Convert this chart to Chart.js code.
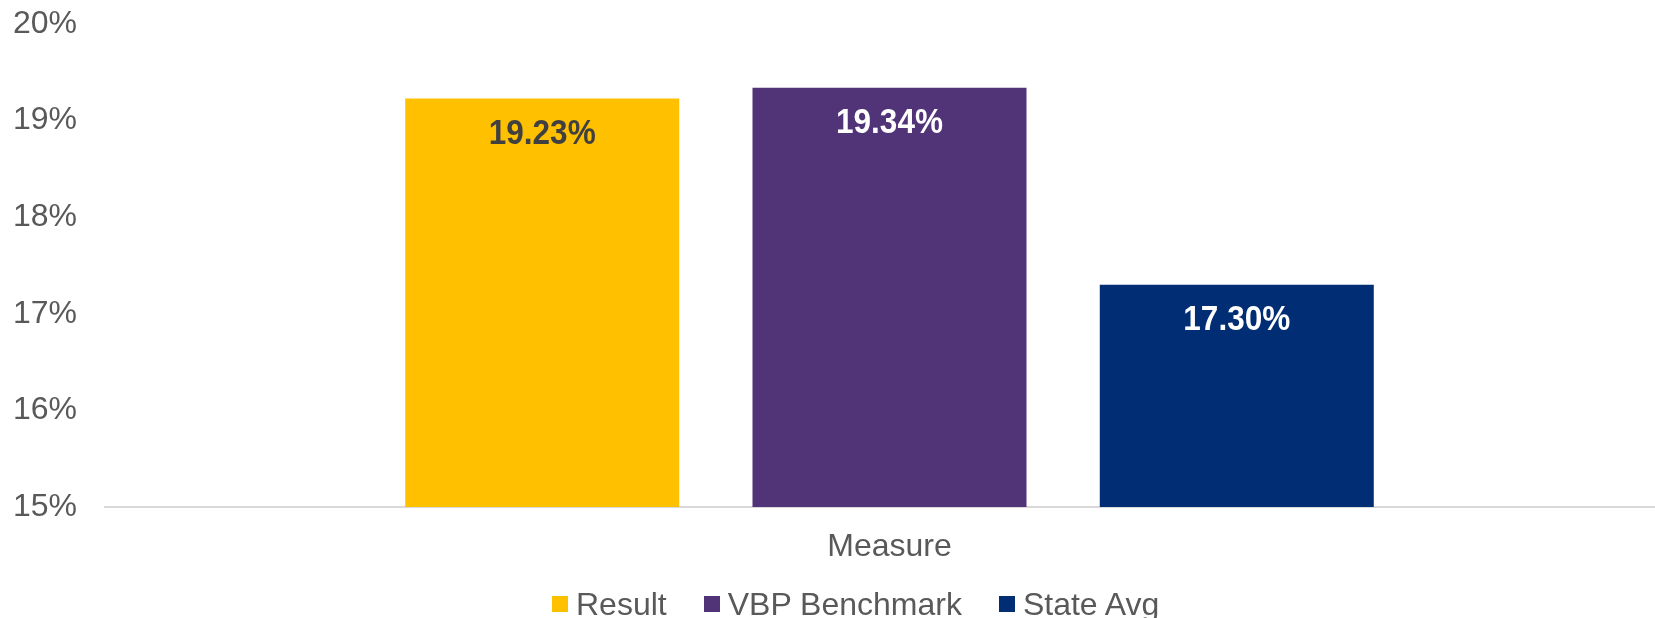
<!DOCTYPE html>
<html>
<head>
<meta charset="utf-8">
<script src="https://cdn.jsdelivr.net/npm/chart.js@4/dist/chart.umd.min.js"></script>
<style>
  html, body { margin: 0; padding: 0; background: #fff; overflow: hidden; }
  #wrap { position: relative; width: 1655px; height: 618px; overflow: hidden; }
  #legend {
    position: absolute; left: 552px; top: 588px;
    display: flex; align-items: center;
    font-family: "Liberation Sans", Arial, sans-serif; font-size: 32px; line-height: 32px;
    color: #595959; white-space: nowrap;
  }
  #legend .item { display: flex; align-items: center; margin-right: 37px; }
  #legend .box { width: 16px; height: 16px; margin-right: 8px; }
</style>
</head>
<body>
<div id="wrap">
  <canvas id="myChart" width="1674" height="618"></canvas>
  <div id="legend"></div>
</div>
<script>
// chart data
const categories = ["Measure"];
const seriesNames = ["Result", "VBP Benchmark", "State Avg"];
const resultValues = [19.23];
const benchmarkValues = [19.34];
const stateAvgValues = [17.30];
const yTicks = [15, 16, 17, 18, 19, 20];

const colors = ["#FFC000", "#513378", "#002D73"];
const labelColors = ["#404040", "#FFFFFF", "#FFFFFF"];
const fontFamily = "'Liberation Sans', Arial, sans-serif";

// draws the value inside the top of each bar (slightly condensed bold)
const barLabels = {
  id: "barLabels",
  afterDatasetsDraw(chart) {
    const c = chart.ctx;
    chart.data.datasets.forEach((ds, i) => {
      chart.getDatasetMeta(i).data.forEach((bar, j) => {
        c.save();
        c.translate(bar.x, bar.y + 36);
        c.scale(0.9, 1);
        c.font = "bold 35px " + fontFamily;
        c.textAlign = "center";
        c.textBaseline = "middle";
        c.fillStyle = labelColors[i];
        c.fillText(ds.data[j].toFixed(2) + "%", 0, 0);
        c.restore();
      });
    });
  }
};

const seriesValues = [resultValues, benchmarkValues, stateAvgValues];
const datasets = seriesNames.map((name, i) => ({
  label: name,
  data: seriesValues[i],
  backgroundColor: colors[i],
  categoryPercentage: 0.664,
  barPercentage: 0.789
}));

new Chart(document.getElementById("myChart"), {
  type: "bar",
  data: { labels: categories, datasets: datasets },
  options: {
    responsive: false,
    animation: false,
    layout: { padding: { top: 24, right: 0, bottom: 0, left: 0 } },
    plugins: {
      legend: { display: false },
      tooltip: { enabled: false }
    },
    scales: {
      x: {
        grid: { display: false, drawTicks: false },
        border: { display: true, color: "#D9D9D9", width: 2 },
        ticks: { color: "#595959", padding: 21, font: { family: fontFamily, size: 32 } },
        afterFit(scale) { scale.height = 111; }
      },
      y: {
        min: yTicks[0],
        max: yTicks[yTicks.length - 1],
        grid: { display: false, drawTicks: false },
        border: { display: false },
        afterBuildTicks(scale) { scale.ticks = yTicks.map(v => ({ value: v })); },
        ticks: {
          color: "#595959",
          padding: 28,
          font: { family: fontFamily, size: 32 },
          callback: v => v + "%"
        },
        afterFit(scale) {
          scale.width = 105;
          scale.paddingTop = 0;
          scale.paddingBottom = 0;
        }
      }
    }
  },
  plugins: [barLabels]
});

// html legend
let output = "";
for (let i = 0; i < seriesNames.length; i++) {
  output += `<div class="item"><div class="box" style="background:${colors[i]}"></div>${seriesNames[i]}</div>`;
}
document.getElementById("legend").innerHTML = output;
</script>
</body>
</html>
